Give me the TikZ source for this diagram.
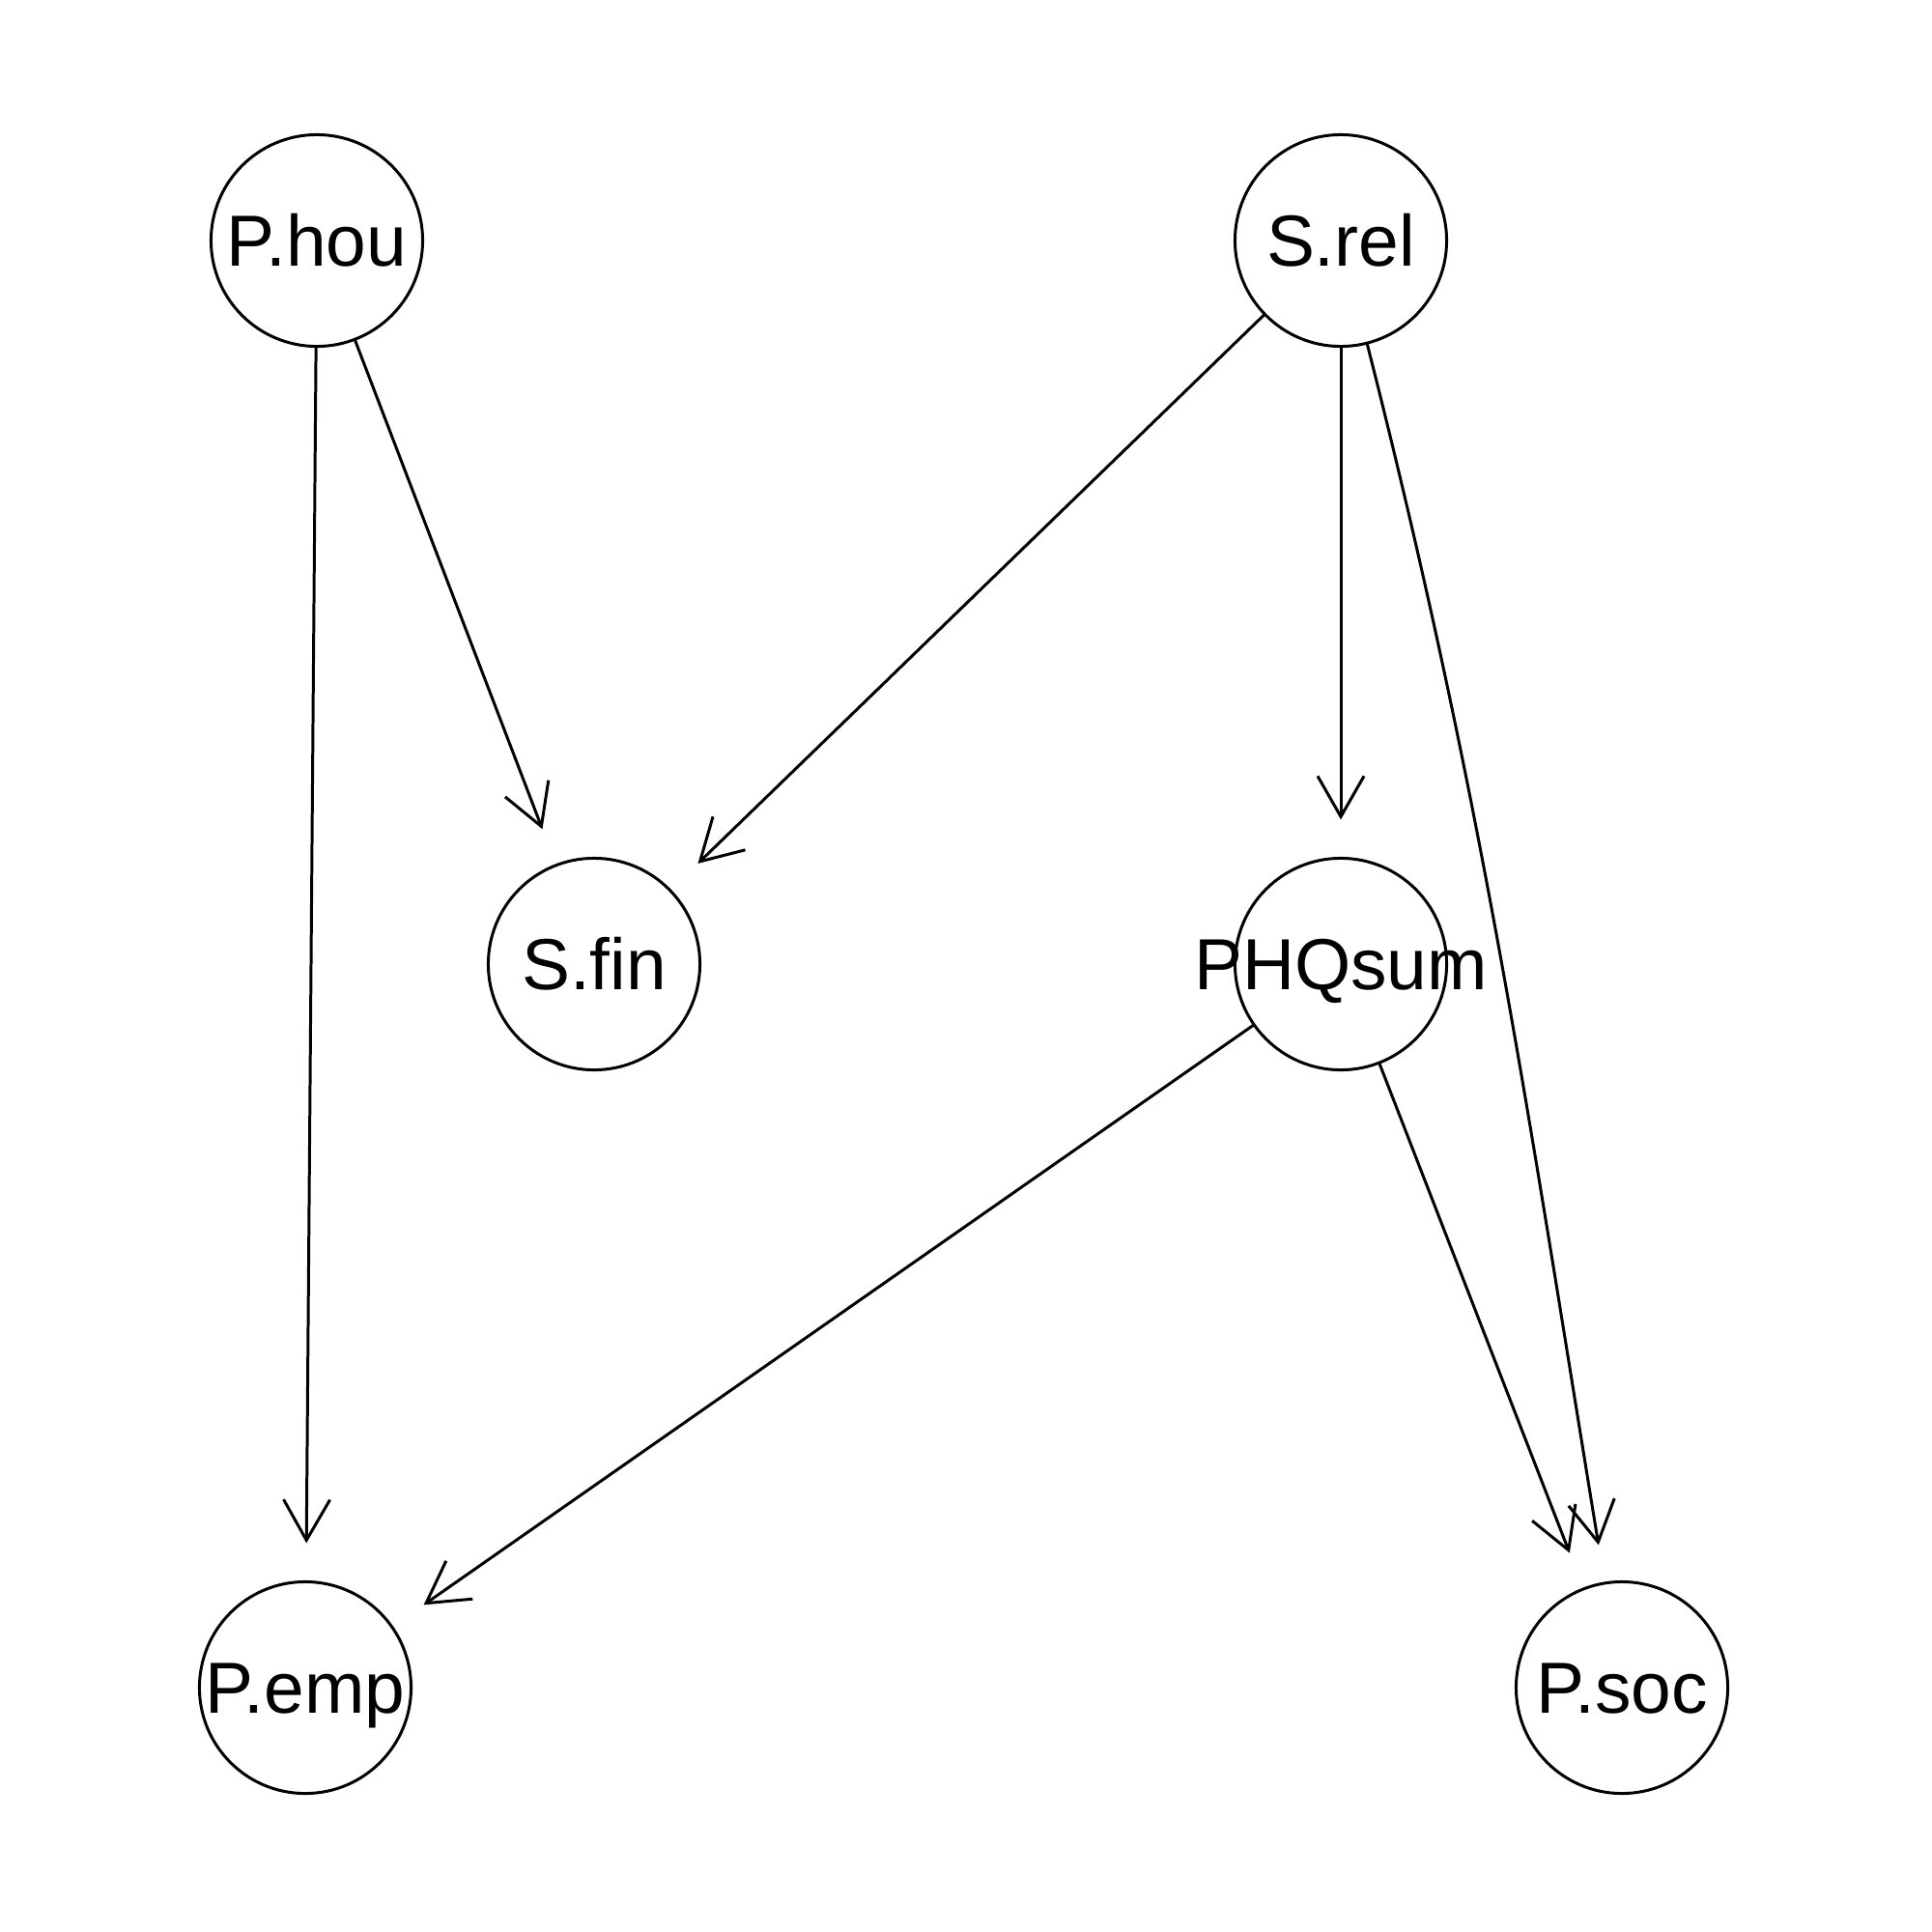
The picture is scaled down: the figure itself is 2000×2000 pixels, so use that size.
\documentclass[tikz,border=0pt]{standalone}
\usepackage{fontspec}
\setmainfont{Liberation Sans}
\usetikzlibrary{arrows.meta}
\newcommand\vlabel[1]{\smash{\makebox[0pt]{\raisebox{-0.359em}{#1}}}}
\begin{document}
\begin{tikzpicture}[x=0.01cm,y=-0.01cm,
  vtx/.style={circle, draw, line width=0.85pt, minimum size=2.19cm, inner sep=0pt, outer sep=0pt,
              font=\fontsize{21.3pt}{25pt}\selectfont},
  lnk/.style={line width=0.85pt, -{Straight Barb[length=0.42cm, width=0.48cm, line width=0.85pt]}, shorten >=0.40cm}]
\useasboundingbox (0,0) rectangle (2000,2000);
\node[vtx] (phou) at (328,249) {\vlabel{P.hou}};
\node[vtx] (srel) at (1388,249) {\vlabel{S.rel}};
\node[vtx] (sfin) at (615,998) {\vlabel{S.fin}};
\node[vtx] (phq) at (1388,998) {\vlabel{PHQsum}};
\node[vtx] (pemp) at (316,1747) {\vlabel{P.emp}};
\node[vtx] (psoc) at (1679,1747) {\vlabel{P.soc}};
\draw[lnk] (phou) -- (pemp);
\draw[lnk] (phou) -- (sfin);
\draw[lnk] (srel) -- (sfin);
\draw[lnk] (srel) -- (phq);
\draw[lnk] (srel) .. controls (1536,830) and (1582,1155) .. (psoc);
\draw[lnk] (phq) -- (pemp);
\draw[lnk] (phq) -- (psoc);
\end{tikzpicture}
\end{document}
